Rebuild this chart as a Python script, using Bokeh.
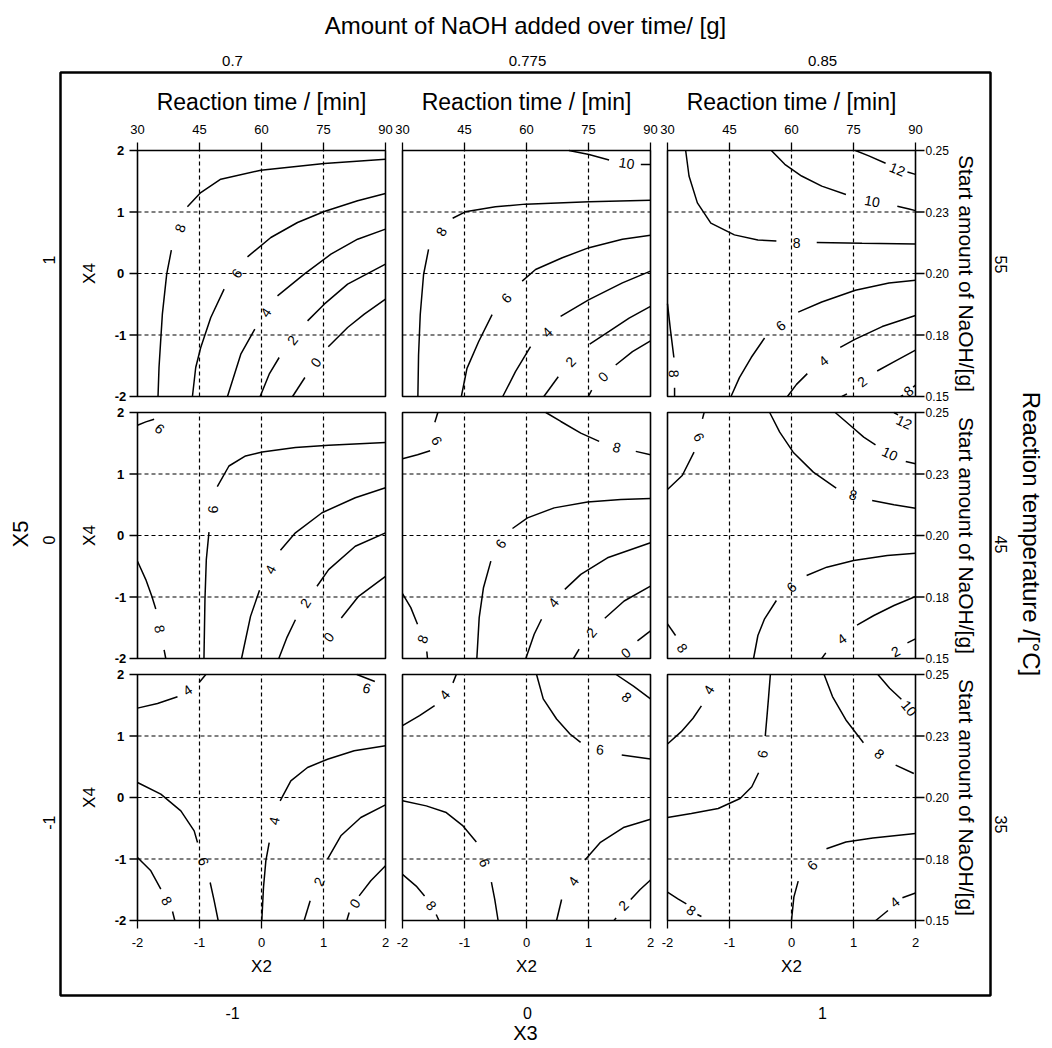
from bokeh.plotting import figure
from bokeh.models import Range1d, LinearAxis, FixedTicker
from bokeh.embed import file_html
from bokeh.resources import INLINE
from bokeh.core.properties import value
import math

# ------------------------------------------------------------------ data
X3_LEVELS = [-1, 0, 1]
X3_CODED = ["-1", "0", "1"]
NAOH_ADDED = ["0.7", "0.775", "0.85"]
X5_LEVELS = [1, 0, -1]
X5_CODED = ["1", "0", "-1"]
TEMPERATURE = ["55", "45", "35"]

X2_TICKS = [-2, -1, 0, 1, 2]
X2_LABELS = ["-2", "-1", "0", "1", "2"]
TIME_LABELS = ["30", "45", "60", "75", "90"]
X4_TICKS = [-2, -1, 0, 1, 2]
X4_LABELS = ["-2", "-1", "0", "1", "2"]
NAOH_START = ["0.15", "0.18", "0.20", "0.23", "0.25"]
GRID_AT = [-1, 0, 1]

# contour pieces (X2 list, X4 list) and labels (X2, X4, text, angle deg)
# row 1: X5 = 1
LINES_11 = [
    ([-1.195, -0.98, -0.657, -0.011, 1.012, 2.0], [1.084, 1.317, 1.534, 1.68, 1.789, 1.859]),
    ([-1.454, -1.529, -1.599, -1.653, -1.669], [0.379, -0.011, -0.661, -1.528, -2.0]),
    ([-0.226, 0.151, 0.581, 1.012, 1.55, 2.0], [0.271, 0.585, 0.829, 1.008, 1.182, 1.301]),
    ([-0.603, -0.818, -0.98, -1.061, -1.114], [-0.255, -0.715, -1.203, -1.528, -2.0]),
    ([0.258, 0.689, 1.12, 1.55, 2.0], [-0.363, -0.011, 0.314, 0.558, 0.721]),
    ([-0.108, -0.334, -0.549], [-0.905, -1.312, -2.0]),
    ([0.743, 1.012, 1.389, 2.0], [-0.77, -0.499, -0.173, 0.152]),
    ([0.285, 0.124, -0.022], [-1.366, -1.637, -2.0]),
    ([1.077, 1.389, 1.658, 2.0], [-1.192, -0.878, -0.661, -0.417]),
    ([0.7, 0.501], [-1.691, -2.0]),
]
LABELS_11 = [(-1.314, 0.737, "8", 70), (-0.398, 0.0, "6", 54), (0.07, -0.634, "4", 56),
             (0.5, -1.084, "2", 52), (0.878, -1.447, "0", 53)]

LINES_12 = [
    ([0.685, 1.008, 1.332], [2.0, 1.935, 1.847]),
    ([1.844, 2.0], [1.771, 1.771]),
    ([-1.191, -0.987, -0.501, -0.016, 1.008, 2.0], [0.899, 1.003, 1.084, 1.128, 1.166, 1.193]),
    ([-1.58, -1.66, -1.714, -1.741, -1.752], [0.392, -0.016, -0.67, -1.324, -2.0]),
    ([-0.07, 0.146, 0.577, 1.008, 1.547, 2.0], [-0.125, 0.065, 0.256, 0.42, 0.556, 0.621]),
    ([-0.555, -0.771, -0.96, -1.051], [-0.67, -1.106, -1.542, -2.0]),
    ([0.55, 1.008, 1.547, 2.0], [-0.698, -0.425, -0.153, 0.038]),
    ([0.065, -0.178, -0.383], [-1.188, -1.597, -2.0]),
    ([1.019, 1.332, 1.655, 2.0], [-1.15, -0.943, -0.725, -0.534]),
    ([0.512, 0.28], [-1.678, -2.0]),
    ([1.439, 1.709, 2.0], [-1.488, -1.27, -1.095]),
    ([1.051, 0.997], [-1.896, -2.0]),
]
LABELS_12 = [(1.617, 1.793, "10", -8), (-1.375, 0.681, "8", 60), (-0.323, -0.398, "6", 48),
             (0.334, -0.954, "4", 45), (0.712, -1.433, "2", 46), (1.234, -1.678, "0", 46)]

LINES_13 = [
    ([1.03, 1.247, 1.518], [2.0, 1.913, 1.792]),
    ([1.87, 2.0], [1.65, 1.612]),
    ([-0.325, -0.108, 0.163, 0.488, 0.878], [2.0, 1.776, 1.585, 1.421, 1.284]),
    ([1.707, 1.897, 2.0], [1.093, 1.049, 1.022]),
    ([-1.707, -1.653, -1.518, -1.301, -0.921, -0.542, -0.244], [2.0, 1.585, 1.148, 0.82, 0.628, 0.546, 0.53]),
    ([0.407, 1.138, 2.0], [0.503, 0.492, 0.481]),
    ([-2.0, -1.951, -1.897], [-0.492, -0.929, -1.366]),
    ([-1.886, -1.886], [-1.858, -2.0]),
    ([1.762, 1.8], [-2.0, -1.978]),
    ([1.962, 2.0], [-1.847, -1.814]),
    ([0.108, 0.488, 1.03, 1.572, 2.0], [-0.628, -0.464, -0.273, -0.153, -0.109]),
    ([-0.434, -0.65, -0.84, -0.976], [-1.049, -1.366, -1.694, -2.0]),
    ([0.786, 1.03, 1.463, 2.0], [-1.202, -1.066, -0.863, -0.683]),
    ([0.255, 0.081, -0.065], [-1.628, -1.803, -2.0]),
    ([1.382, 1.68, 2.0], [-1.585, -1.421, -1.246]),
    ([0.894, 0.813], [-1.956, -2.0]),
]
LABELS_13 = [(1.707, 1.694, "12", -22), (1.301, 1.175, "10", -10), (0.081, 0.503, "8", 0),
             (-1.897, -1.628, "8", -88), (1.886, -1.913, "8", 40), (-0.173, -0.847, "6", 38),
             (0.515, -1.421, "4", 38), (1.138, -1.76, "2", 37)]

# row 2: X5 = 0
LINES_21 = [
    ([-2.0, -1.866, -1.732], [1.793, 1.848, 1.891]),
    ([-0.713, -0.525, -0.257, 0.011, 0.547, 1.083, 2.0], [0.793, 1.13, 1.293, 1.359, 1.429, 1.467, 1.511]),
    ([-0.847, -0.89, -0.912, -0.928], [0.054, -0.391, -1.043, -2.0]),
    ([0.306, 0.547, 0.976, 1.512, 2.0], [-0.239, 0.043, 0.37, 0.614, 0.777]),
    ([-0.032, -0.177, -0.322], [-0.891, -1.315, -2.0]),
    ([0.895, 1.083, 1.512, 2.0], [-0.826, -0.554, -0.174, 0.043]),
    ([0.547, 0.413, 0.279], [-1.37, -1.652, -2.0]),
    ([1.287, 1.566, 2.0], [-1.342, -0.989, -0.663]),
    ([-2.0, -1.866, -1.769, -1.705], [-0.418, -0.717, -0.989, -1.196]),
    ([-1.571, -1.544], [-1.859, -2.0]),
]
LABELS_21 = [(-1.641, 1.739, "6", -40), (-0.783, 0.424, "6", 88), (0.145, -0.554, "4", 62),
             (0.708, -1.098, "2", 57), (1.083, -1.652, "0", 52), (-1.641, -1.522, "8", -78)]

LINES_22 = [
    ([-1.43, -1.478], [2.0, 1.843]),
    ([-1.554, -1.758, -2.0], [1.378, 1.314, 1.249]),
    ([0.312, 0.554, 0.876, 1.172], [2.0, 1.854, 1.665, 1.53]),
    ([1.763, 2.0], [1.368, 1.314]),
    ([-0.226, 0.016, 0.446, 0.984, 1.522, 2.0], [0.114, 0.286, 0.449, 0.546, 0.584, 0.6]),
    ([-0.575, -0.694, -0.763, -0.801], [-0.416, -0.849, -1.335, -2.0]),
    ([0.618, 0.876, 1.306, 2.0], [-0.876, -0.632, -0.362, -0.119]),
    ([0.242, 0.124, -0.011], [-1.362, -1.605, -2.0]),
    ([1.263, 1.575, 2.0], [-1.346, -1.065, -0.822]),
    ([0.849, 0.758], [-1.849, -2.0]),
    ([1.79, 2.0], [-1.714, -1.551]),
    ([-2.0, -1.866, -1.758], [-0.946, -1.173, -1.443]),
    ([-1.608, -1.597], [-1.886, -2.0]),
]
LABELS_22 = [(-1.446, 1.541, "6", -60), (1.457, 1.432, "8", -15), (-0.414, -0.135, "6", 56),
             (0.435, -1.092, "4", 52), (1.048, -1.578, "2", 50), (1.602, -1.908, "0", 38),
             (-1.677, -1.686, "8", 70)]

LINES_23 = [
    ([0.705, 0.949, 1.165, 1.355], [2.0, 1.789, 1.599, 1.474]),
    ([1.843, 2.0], [1.203, 1.165]),
    ([1.653, 1.718], [2.0, 1.962]),
    ([-0.352, -0.19, 0.027, 0.352, 0.721], [2.0, 1.68, 1.355, 1.03, 0.77]),
    ([1.301, 1.653, 2.0], [0.569, 0.499, 0.444]),
    ([-1.409, -1.436], [2.0, 1.897]),
    ([-1.572, -1.762, -2.0], [1.355, 0.976, 0.748]),
    ([0.244, 0.569, 1.003, 1.545, 2.0], [-0.65, -0.515, -0.407, -0.325, -0.287]),
    ([-0.244, -0.434, -0.542, -0.612], [-1.057, -1.355, -1.626, -2.0]),
    ([1.057, 1.328, 1.653, 2.0], [-1.458, -1.301, -1.138, -0.992]),
    ([0.553, 0.488], [-1.908, -2.0]),
    ([1.87, 2.0], [-1.745, -1.68]),
    ([-2.0, -1.87], [-1.436, -1.626]),
]
LABELS_23 = [(1.816, 1.843, "12", -25), (1.588, 1.328, "10", -25), (0.992, 0.661, "8", -12),
             (-1.491, 1.599, "6", -62), (0.0, -0.84, "6", 40), (0.813, -1.68, "4", 35),
             (1.68, -1.886, "2", 28), (-1.762, -1.832, "8", -55)]

# row 3: X5 = -1
LINES_31 = [
    ([-2.0, -1.677, -1.355], [1.453, 1.528, 1.637]),
    ([-1.005, -0.898], [1.87, 2.0]),
    ([1.538, 1.828], [2.0, 1.886]),
    ([0.301, 0.473, 0.742, 1.065, 1.495, 2.0], [-0.054, 0.271, 0.488, 0.623, 0.759, 0.84]),
    ([0.124, 0.07, 0.032, 0.005], [-0.732, -1.03, -1.463, -2.0]),
    ([-2.0, -1.624, -1.301, -1.086, -1.032], [0.244, 0.054, -0.217, -0.542, -0.732]),
    ([-0.828, -0.763, -0.699], [-1.382, -1.68, -2.0]),
    ([1.065, 1.28, 1.602, 2.0], [-1.003, -0.623, -0.325, -0.119]),
    ([0.785, 0.688], [-1.68, -2.0]),
    ([1.575, 1.763, 2.0], [-1.599, -1.355, -1.111]),
    ([1.414, 1.376], [-1.87, -2.0]),
    ([-2.0, -1.785, -1.624], [-0.976, -1.192, -1.49]),
    ([-1.435, -1.398], [-1.854, -2.0]),
]
LABELS_31 = [(-1.194, 1.745, "4", 33), (1.699, 1.778, "6", -15), (0.204, -0.379, "4", 78),
             (-0.935, -1.041, "6", -72), (0.93, -1.366, "2", 65), (1.505, -1.724, "0", 55),
             (-1.527, -1.68, "8", -60)]

LINES_32 = [
    ([-2.0, -1.725, -1.482], [1.168, 1.332, 1.495]),
    ([-1.186, -1.132], [1.864, 2.0]),
    ([0.162, 0.27, 0.485, 0.701, 0.873], [2.0, 1.603, 1.277, 1.033, 0.897]),
    ([1.536, 2.0], [0.69, 0.625]),
    ([1.445, 1.725, 2.0], [2.0, 1.81, 1.603]),
    ([-2.0, -1.617, -1.294, -1.024, -0.809], [-0.054, -0.136, -0.245, -0.462, -0.723]),
    ([-0.566, -0.512, -0.458], [-1.375, -1.658, -2.0]),
    ([0.943, 1.186, 1.563, 2.0], [-1.016, -0.734, -0.489, -0.353]),
    ([0.566, 0.485], [-1.658, -2.0]),
    ([1.682, 1.833, 2.0], [-1.658, -1.495, -1.342]),
    ([1.445, 1.412], [-1.957, -2.0]),
    ([-2.0, -1.779, -1.644], [-1.25, -1.44, -1.603]),
    ([-1.456, -1.412], [-1.902, -2.0]),
]
LABELS_32 = [(-1.321, 1.668, "4", 50), (1.186, 0.777, "6", -5), (1.617, 1.63, "8", -40),
             (-0.674, -1.06, "6", -68), (0.755, -1.359, "4", 55), (1.563, -1.755, "2", 45),
             (-1.536, -1.755, "8", -50)]

LINES_33 = [
    ([-2.0, -1.778, -1.588, -1.453], [0.87, 1.071, 1.288, 1.489]),
    ([-0.341, -0.369, -0.396, -0.423], [2.0, 1.641, 1.315, 1.0]),
    ([-0.531, -0.64, -0.829, -1.182, -1.615, -2.0], [0.402, 0.174, -0.016, -0.179, -0.261, -0.326]),
    ([0.526, 0.661, 0.878, 1.16], [2.0, 1.641, 1.261, 0.891]),
    ([1.68, 1.973], [0.527, 0.391]),
    ([1.393, 1.583, 1.772], [2.0, 1.777, 1.598]),
    ([0.564, 0.878, 1.312, 2.0], [-0.832, -0.723, -0.658, -0.587]),
    ([0.108, 0.038, 0.0], [-1.359, -1.62, -2.0]),
    ([1.36, 1.556], [-2.0, -1.837]),
    ([1.789, 2.0], [-1.63, -1.554]),
    ([-2.0, -1.832, -1.696], [-1.538, -1.647, -1.728]),
    ([-1.518, -1.453], [-1.902, -1.935]),
]
LABELS_33 = [(-1.333, 1.75, "4", 58), (-0.466, 0.707, "6", 80), (1.42, 0.707, "8", -40),
             (1.897, 1.451, "10", -50), (0.336, -1.103, "6", 49), (1.664, -1.701, "4", 38),
             (-1.615, -1.837, "8", -35)]

PANELS = [[(LINES_11, LABELS_11), (LINES_12, LABELS_12), (LINES_13, LABELS_13)],
          [(LINES_21, LABELS_21), (LINES_22, LABELS_22), (LINES_23, LABELS_23)],
          [(LINES_31, LABELS_31), (LINES_32, LABELS_32), (LINES_33, LABELS_33)]]

# ------------------------------------------------------------------ layout (pixels)
FRAME_W, FRAME_H = 930, 923
OUT_X_TICK0, OUT_X_STEP = 172, 295      # px of X3=-1 from frame left, px per unit
OUT_Y_TICK0, OUT_Y_STEP = 183, 280      # px of X5=+1 from frame top, px per unit
PANEL_L = [77, 342, 607]                # panel left edges, px from frame left
PANEL_T = [78, 340, 602]                # panel top edges, px from frame top
PANEL_W, PANEL_H = 248, 246

FONT = "Liberation Sans"
NARROW = "'Liberation Sans Narrow', 'Liberation Sans', sans-serif"

x0 = -1 - OUT_X_TICK0 / OUT_X_STEP
y1 = 1 + OUT_Y_TICK0 / OUT_Y_STEP

p = figure(frame_width=FRAME_W, frame_height=FRAME_H,
           x_range=Range1d(x0, x0 + FRAME_W / OUT_X_STEP),
           y_range=Range1d(y1 - FRAME_H / OUT_Y_STEP, y1),
           min_border_left=60, min_border_right=54, min_border_top=72, min_border_bottom=50,
           output_backend="svg", toolbar_location=None, x_axis_location="below")
p.xgrid.visible = False
p.ygrid.visible = False
p.outline_line_color = "black"
p.outline_line_width = 2.5
p.background_fill_color = "white"
p.border_fill_color = "white"


def style_axis(ax, labels, levels, title, lab_size, title_size, standoff, title_standoff, orient=None):
    ax.ticker = FixedTicker(ticks=levels)
    ax.major_label_overrides = {float(v): t for v, t in zip(levels, labels)}
    ax.axis_label = title
    ax.axis_line_color = None
    ax.major_tick_line_color = None
    ax.minor_tick_line_color = None
    ax.major_tick_out = 0
    ax.major_tick_in = 0
    ax.major_label_standoff = standoff
    ax.axis_label_standoff = title_standoff
    ax.major_label_text_font = FONT
    ax.major_label_text_font_size = lab_size
    ax.major_label_text_color = "black"
    ax.axis_label_text_font = FONT
    ax.axis_label_text_font_size = title_size
    ax.axis_label_text_font_style = "normal"
    ax.axis_label_text_color = "black"
    if orient is not None:
        ax.major_label_orientation = orient


style_axis(p.xaxis[0], X3_CODED, X3_LEVELS, "X3", "16px", "20px", 11, 0)
top_ax = LinearAxis()
p.add_layout(top_ax, "above")
style_axis(top_ax, NAOH_ADDED, X3_LEVELS, "Amount of NaOH added over time/ [g]", "15px", "24px", 7, 14)
style_axis(p.yaxis[0], X5_CODED, X5_LEVELS, "X5", "16px", "22px", 12, 1, orient=math.pi / 2)
right_ax = LinearAxis()
p.add_layout(right_ax, "right")
style_axis(right_ax, TEMPERATURE, X5_LEVELS, "Reaction temperature /[°C]", "16px", "24px", 10, 2,
           orient=-math.pi / 2)

# panel coordinate systems
for c in range(3):
    ppu = PANEL_W / 4
    s = -2 - PANEL_L[c] / ppu
    p.extra_x_ranges[f"c{c}"] = Range1d(s, s + FRAME_W / ppu)
for r in range(3):
    ppu = PANEL_H / 4
    e = 2 + PANEL_T[r] / ppu
    p.extra_y_ranges[f"r{r}"] = Range1d(e - FRAME_H / ppu, e)

for r in range(3):
    for c in range(3):
        kw = dict(x_range_name=f"c{c}", y_range_name=f"r{r}")
        lines, labels = PANELS[r][c]
        p.quad(left=-2, right=2, bottom=-2, top=2, fill_color="white", line_color=None, **kw)
        # dashed reference grid
        p.segment(x0=GRID_AT, y0=[-2] * 3, x1=GRID_AT, y1=[2] * 3,
                  line_color="black", line_width=1.2, line_dash="4 3", **kw)
        p.segment(x0=[-2] * 3, y0=GRID_AT, x1=[2] * 3, y1=GRID_AT,
                  line_color="black", line_width=1.2, line_dash="4 3", **kw)
        # contours
        p.multi_line(xs=[l[0] for l in lines], ys=[l[1] for l in lines],
                     line_color="black", line_width=1.5, **kw)
        p.text(x=[l[0] for l in labels], y=[l[1] for l in labels], text=[l[2] for l in labels],
               angle=[l[3] for l in labels], angle_units="deg",
               text_align="center", text_baseline="middle", text_color="black",
               text_font=value(FONT), text_font_size="14px", **kw)
        # frame
        p.quad(left=-2, right=2, bottom=-2, top=2, fill_color=None, line_color="black",
               line_width=1.6, **kw)

        if r == 0:
            p.ray(x=X2_TICKS, y=[2] * 5, length=8, angle=90, angle_units="deg",
                  length_units="screen", line_color="black", line_width=1.3, **kw)
            p.text(x=X2_TICKS, y=[2] * 5, text=TIME_LABELS, y_offset=-21,
                   text_align="center", text_baseline="middle", text_color="black",
                   text_font=value(NARROW), text_font_size="13px", **kw)
            p.text(x=[0], y=[2], text=["Reaction time / [min]"], y_offset=-49,
                   text_align="center", text_baseline="middle", text_color="black",
                   text_font=value(FONT), text_font_size="23px", **kw)
        if r == 2:
            p.ray(x=X2_TICKS, y=[-2] * 5, length=8, angle=-90, angle_units="deg",
                  length_units="screen", line_color="black", line_width=1.3, **kw)
            p.text(x=X2_TICKS, y=[-2] * 5, text=X2_LABELS, y_offset=22,
                   text_align="center", text_baseline="middle", text_color="black",
                   text_font=value(FONT), text_font_size="13px", **kw)
            p.text(x=[0], y=[-2], text=["X2"], y_offset=46,
                   text_align="center", text_baseline="middle", text_color="black",
                   text_font=value(FONT), text_font_size="17px", **kw)
        if c == 0:
            p.ray(x=[-2] * 5, y=X4_TICKS, length=8, angle=180, angle_units="deg",
                  length_units="screen", line_color="black", line_width=1.3, **kw)
            p.text(x=[-2] * 5, y=X4_TICKS, text=X4_LABELS, x_offset=-17,
                   text_align="center", text_baseline="middle", text_color="black",
                   text_font=value(FONT), text_font_size="13px", text_font_style="bold", **kw)
            p.text(x=[-2], y=[0], text=["X4"], x_offset=-48, angle=90, angle_units="deg",
                   text_align="center", text_baseline="middle", text_color="black",
                   text_font=value(FONT), text_font_size="17px", **kw)
        if c == 2:
            p.ray(x=[2] * 5, y=X4_TICKS, length=9, angle=0, angle_units="deg",
                  length_units="screen", line_color="black", line_width=1.3, **kw)
            p.text(x=[2] * 5, y=X4_TICKS, text=NAOH_START, x_offset=10,
                   text_align="left", text_baseline="middle", text_color="black",
                   text_font=value(FONT), text_font_size="12px", **kw)
            p.text(x=[2], y=[0], text=["Start amount of NaOH/[g]"], x_offset=51, angle=-90,
                   angle_units="deg", text_align="center", text_baseline="middle",
                   text_color="black", text_font=value(FONT), text_font_size="21px", **kw)

open("out.html", "w").write(file_html(p, INLINE))
